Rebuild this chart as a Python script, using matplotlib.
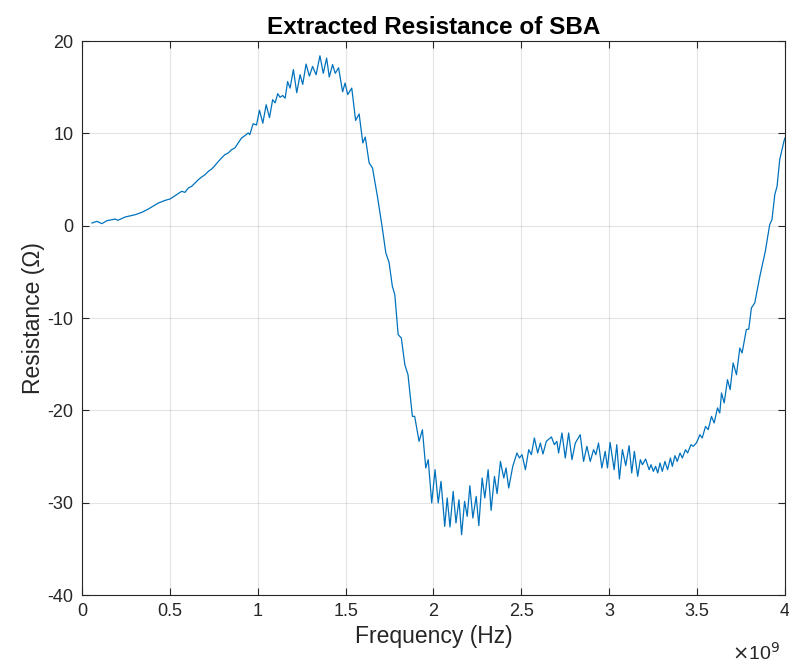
import matplotlib
matplotlib.use("Agg")
import matplotlib.pyplot as plt
from matplotlib.ticker import FixedLocator

plt.rcParams['font.family'] = ['Liberation Sans', 'DejaVu Sans']
plt.rcParams['axes.unicode_minus'] = False

# Frequency in GHz (axis shown with x10^9 multiplier), resistance in Ohm
freq_ghz = [
    0.057, 0.085, 0.113, 0.142, 0.189, 0.204, 0.246, 0.303, 0.340, 0.378,
    0.435, 0.473, 0.501, 0.530, 0.548, 0.567, 0.586, 0.605, 0.624, 0.643,
    0.662, 0.681, 0.700, 0.719, 0.738, 0.756, 0.776, 0.794, 0.813, 0.832,
    0.851, 0.870, 0.889, 0.908, 0.927, 0.946, 0.955, 0.974, 0.993, 1.010,
    1.029, 1.048, 1.067, 1.085, 1.099, 1.114, 1.127, 1.142, 1.156, 1.170,
    1.184, 1.203, 1.222, 1.241, 1.256, 1.275, 1.294, 1.312, 1.332, 1.354,
    1.373, 1.392, 1.407, 1.426, 1.441, 1.460, 1.483, 1.497, 1.512, 1.535,
    1.557, 1.577, 1.598, 1.612, 1.634, 1.653, 1.681, 1.706, 1.729, 1.747,
    1.766, 1.780, 1.799, 1.817, 1.837, 1.855, 1.880, 1.893, 1.918, 1.937,
    1.956, 1.970, 1.990, 2.009, 2.027, 2.043, 2.064, 2.078, 2.094, 2.112,
    2.128, 2.145, 2.160, 2.177, 2.192, 2.207, 2.224, 2.243, 2.258, 2.277,
    2.292, 2.311, 2.328, 2.347, 2.362, 2.381, 2.400, 2.413, 2.428, 2.451,
    2.475, 2.489, 2.504, 2.523, 2.542, 2.557, 2.574, 2.593, 2.608, 2.623,
    2.642, 2.671, 2.688, 2.702, 2.712, 2.731, 2.750, 2.769, 2.788, 2.807,
    2.835, 2.854, 2.873, 2.892, 2.911, 2.924, 2.939, 2.958, 2.977, 2.990,
    3.005, 3.028, 3.043, 3.058, 3.075, 3.094, 3.113, 3.128, 3.143, 3.162,
    3.177, 3.189, 3.207, 3.227, 3.238, 3.251, 3.264, 3.276, 3.289, 3.302,
    3.317, 3.332, 3.348, 3.359, 3.374, 3.387, 3.403, 3.416, 3.434, 3.446,
    3.465, 3.478, 3.497, 3.516, 3.529, 3.548, 3.563, 3.582, 3.597, 3.616,
    3.629, 3.639, 3.654, 3.673, 3.688, 3.705, 3.724, 3.743, 3.756, 3.780,
    3.794, 3.809, 3.828, 3.857, 3.888, 3.913, 3.926, 3.942, 3.955, 3.970,
    3.994, 4.000,
]
resistance = [
    0.29, 0.47, 0.22, 0.54, 0.72, 0.58, 0.94, 1.19, 1.44, 1.81,
    2.46, 2.74, 2.89, 3.25, 3.47, 3.72, 3.61, 4.08, 4.26, 4.62,
    4.98, 5.27, 5.52, 5.88, 6.14, 6.50, 6.96, 7.33, 7.69, 7.87,
    8.23, 8.42, 8.96, 9.50, 9.75, 10.04, 9.86, 11.05, 10.9, 12.5,
    11.1, 13.1, 11.7, 13.65, 13.3, 14.3, 13.9, 14.1, 13.8, 15.6,
    14.9, 16.9, 14.4, 16.35, 15.3, 17.5, 16.2, 17.25, 16.35, 18.4,
    16.5, 18.15, 16.1, 17.45, 16.5, 17.1, 14.5, 15.45, 14.2, 14.9,
    11.4, 12.1, 8.96, 9.6, 6.79, 6.25, 3.17, 0.11, -2.96, -3.95,
    -6.57, -7.47, -11.8, -12.16, -15.05, -16.14, -20.65, -20.65, -23.36, -22.1,
    -26.24, -25.34, -30.03, -26.43, -30.03, -27.69, -32.57, -29.49, -32.63, -28.78,
    -32.2, -29.68, -33.47, -29.86, -31.48, -28.16, -31.66, -29.32, -32.49, -27.33,
    -29.49, -26.43, -30.83, -27.15, -29.03, -25.53, -27.33, -26.24, -28.41, -26.07,
    -24.62, -25.16, -24.8, -26.43, -24.26, -24.8, -22.99, -24.62, -23.54, -24.73,
    -23.36, -22.88, -23.72, -23.36, -24.62, -22.45, -25.16, -22.45, -25.34, -23.54,
    -22.64, -25.53, -23.9, -25.53, -24.26, -24.8, -23.54, -26.24, -24.44, -26.24,
    -23.47, -26.43, -23.72, -27.43, -24.26, -25.99, -23.83, -26.78, -24.44, -27.15,
    -25.34, -25.89, -25.27, -26.43, -25.89, -26.61, -26.07, -26.78, -25.7, -26.61,
    -25.53, -26.43, -25.16, -26.07, -24.91, -25.53, -24.62, -25.16, -24.26, -24.62,
    -23.72, -23.9, -23.5, -22.64, -23.0, -21.74, -22.09, -20.65, -21.37, -19.74,
    -20.29, -18.12, -19.2, -16.68, -17.76, -14.87, -16.14, -13.25, -13.79, -11.26,
    -11.19, -8.91, -8.37, -5.49, -2.78, 0.11, 0.65, 3.36, 4.26, 7.15,
    9.13, 9.5,
]

x_ticks = [0, 0.5, 1, 1.5, 2, 2.5, 3, 3.5, 4]
x_tick_labels = ['0', '0.5', '1', '1.5', '2', '2.5', '3', '3.5', '4']
y_ticks = [-40, -30, -20, -10, 0, 10, 20]
y_tick_labels = ['-40', '-30', '-20', '-10', '0', '10', '20']

axc = '#262626'
fig = plt.figure(figsize=(7.89, 6.69), dpi=100)
ax = fig.add_axes([0.1039, 0.1106, 0.8910, 0.8281])
ax.plot(freq_ghz, resistance, color='#0072BD', linewidth=0.9)
ax.set_xlim(0, 4)
ax.set_ylim(-40, 20)
ax.xaxis.set_major_locator(FixedLocator(x_ticks))
ax.yaxis.set_major_locator(FixedLocator(y_ticks))
ax.set_xticklabels(x_tick_labels)
ax.set_yticklabels(y_tick_labels)
ax.grid(True, color='#262626', alpha=0.12, linewidth=0.8)
ax.set_axisbelow(True)
ax.tick_params(direction='in', length=5, width=0.8, colors=axc,
               labelsize=13, top=True, right=True, pad=6)
for s in ax.spines.values():
    s.set_color(axc)
    s.set_linewidth(0.8)
ax.set_xlabel('Frequency (Hz)', fontsize=16.5, color=axc, labelpad=3)
ax.set_ylabel('Resistance (Ω)', fontsize=16.5, color=axc, labelpad=2)
ax.set_title('Extracted Resistance of SBA', fontsize=17.5, fontweight='bold',
             color='black', pad=5)
ax.text(0.9935, -0.085, '$\\times$10$^{9}$', transform=ax.transAxes,
        ha='right', va='top', fontsize=14, color=axc)
fig.savefig('out.png', dpi=100)
